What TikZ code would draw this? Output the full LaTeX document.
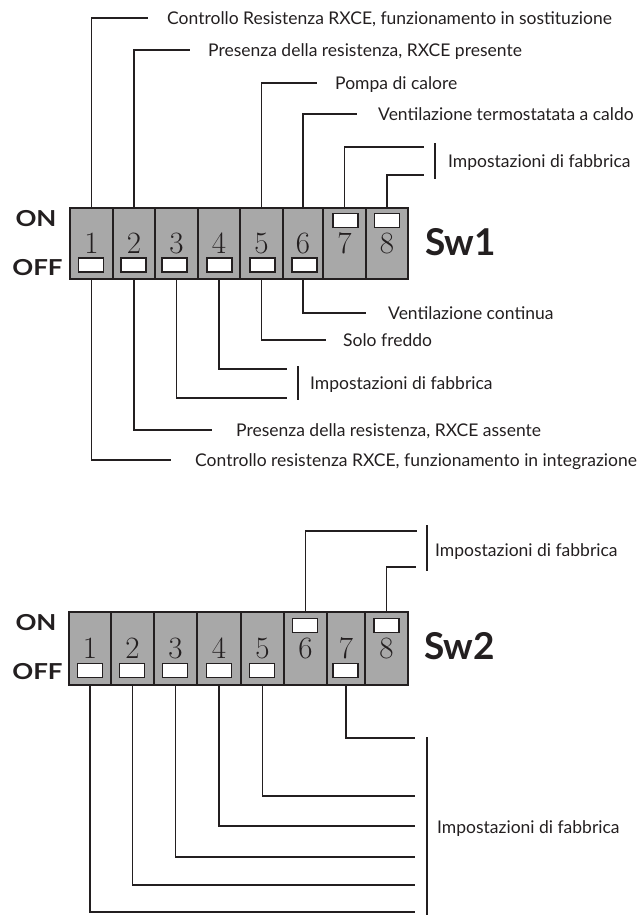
\documentclass[tikz,border=0pt]{standalone}
\usepackage{fontspec}
\newfontfamily\labelfont{Lato}
\definecolor{swgray}{HTML}{A8A8A8}
\definecolor{ink}{HTML}{231F20}
\tikzset{
  cellbox/.style={draw=ink, line width=1.6, fill=swgray, inner sep=0, text=ink,
    font=\fontsize{31}{31}\selectfont},
  tabbox/.style={draw=ink, line width=1.3, fill=white, minimum width=25, minimum height=14, inner sep=0},
  lbl/.style={anchor=west, inner sep=0, text height=13.5, text depth=0, text=ink,
    font=\labelfont\fontsize{17.5}{17.5}\selectfont},
  wire/.style={draw=ink, line width=1.1},
  bar/.style={draw=ink, line width=2},
  onoff/.style={inner sep=0, text=ink, font=\labelfont\bfseries\fontsize{22}{22}\selectfont},
  swname/.style={anchor=west, inner sep=0, text=ink, font=\labelfont\bfseries\fontsize{37}{37}\selectfont}
}
\newcommand{\wideword}[1]{\scalebox{1.18}[1]{#1}}
\begin{document}
\begin{tikzpicture}[x=1pt,y=-1pt]
\useasboundingbox (0,0) rectangle (642,915);

% ---------------- Sw1 ----------------
\node[cellbox, minimum width=43, minimum height=71] (a1) at (91.5,243.5) {1};
\node[cellbox, minimum width=42, minimum height=71] (a2) at (134,243.5) {2};
\node[cellbox, minimum width=43, minimum height=71] (a3) at (176.5,243.5) {3};
\node[cellbox, minimum width=42, minimum height=71] (a4) at (219,243.5) {4};
\node[cellbox, minimum width=43, minimum height=71] (a5) at (261.5,243.5) {5};
\node[cellbox, minimum width=40, minimum height=71] (a6) at (303,243.5) {6};
\node[cellbox, minimum width=43, minimum height=71] (a7) at (344.5,243.5) {7};
\node[cellbox, minimum width=42, minimum height=71] (a8) at (387,243.5) {8};
\node[tabbox] (a1t) at (91,265) {};
\node[tabbox] (a2t) at (133.5,265) {};
\node[tabbox] (a3t) at (174.5,265) {};
\node[tabbox] (a4t) at (219.5,265) {};
\node[tabbox] (a5t) at (262.5,265) {};
\node[tabbox] (a6t) at (304.5,265) {};
\node[tabbox] (a7t) at (345.5,220.5) {};
\node[tabbox] (a8t) at (387,220.5) {};
\node[onoff] (on1) at (36,219) {\wideword{ON}};
\node[onoff] (off1) at (37.5,268) {\wideword{OFF}};
\node[swname] (sw1) at (425,242) {Sw1};

% Sw1 top connectors
\coordinate (e1) at (148,18);
\coordinate (e2) at (190,50);
\coordinate (e5) at (317,83);
\coordinate (e6) at (357,114);
\coordinate (e7) at (424,147);
\coordinate (e8) at (424,175);
\node[lbl] (t1) at (167,18) {Controllo Resistenza RXCE, funzionamento in sostituzione};
\node[lbl] (t2) at (208,50) {Presenza della resistenza, RXCE presente};
\node[lbl] (t5) at (335,83) {Pompa di calore};
\node[lbl] (t6) at (378,114) {Ventilazione termostatata a caldo};
\node[lbl] (t78) at (448,161) {Impostazioni di fabbrica};
\draw[wire] (a1.north) |- (e1);
\draw[wire] (a2.north) |- (e2);
\draw[wire] (a5.north) |- (e5);
\draw[wire] (a6.north) |- (e6);
\draw[wire] (a7.north) |- (e7);
\draw[wire] (a8.north) |- (e8);
\coordinate (b1s) at (435,143);
\coordinate (b1e) at (435,179);
\draw[bar] (b1s) -- (b1e);

% Sw1 bottom connectors
\coordinate (f6) at (366,313);
\coordinate (f5) at (326,340);
\coordinate (f4) at (287,369);
\coordinate (f3) at (287,398);
\coordinate (f2) at (212,430);
\coordinate (f1) at (171,460);
\node[lbl] (u6) at (388,313) {Ventilazione continua};
\node[lbl] (u5) at (343,340) {Solo freddo};
\node[lbl] (u34) at (310,383) {Impostazioni di fabbrica};
\node[lbl] (u2) at (236,430) {Presenza della resistenza, RXCE assente};
\node[lbl] (u1) at (195,460) {Controllo resistenza RXCE, funzionamento in integrazione};
\draw[wire] (a6.south) |- (f6);
\draw[wire] (a5.south) |- (f5);
\draw[wire] (a4.south) |- (f4);
\draw[wire] (a3.south) |- (f3);
\draw[wire] (a2.south) |- (f2);
\draw[wire] (a1.south) |- (f1);
\coordinate (b2s) at (298,366);
\coordinate (b2e) at (298,400);
\draw[bar] (b2s) -- (b2e);

% ---------------- Sw2 ----------------
\node[cellbox, minimum width=42, minimum height=73] (c1) at (90,648.5) {1};
\node[cellbox, minimum width=43, minimum height=73] (c2) at (132.5,648.5) {2};
\node[cellbox, minimum width=43, minimum height=73] (c3) at (175.5,648.5) {3};
\node[cellbox, minimum width=44, minimum height=73] (c4) at (219,648.5) {4};
\node[cellbox, minimum width=43, minimum height=73] (c5) at (262.5,648.5) {5};
\node[cellbox, minimum width=43, minimum height=73] (c6) at (305.5,648.5) {6};
\node[cellbox, minimum width=38, minimum height=73] (c7) at (346,648.5) {7};
\node[cellbox, minimum width=43, minimum height=73] (c8) at (386.5,648.5) {8};
\node[tabbox] (c1t) at (90,670.5) {};
\node[tabbox] (c2t) at (132,670.5) {};
\node[tabbox] (c3t) at (175,670.5) {};
\node[tabbox] (c4t) at (219,670.5) {};
\node[tabbox] (c5t) at (262,670.5) {};
\node[tabbox] (c7t) at (345.5,670.5) {};
\node[tabbox] (c6t) at (305,625.5) {};
\node[tabbox] (c8t) at (386.5,625.5) {};
\node[onoff] (on2) at (36,623) {\wideword{ON}};
\node[onoff] (off2) at (37.5,672) {\wideword{OFF}};
\node[swname] (sw2) at (424,646) {Sw2};

\coordinate (g6) at (417,531);
\coordinate (g8) at (416,567);
\node[lbl] (v68) at (435,550) {Impostazioni di fabbrica};
\draw[wire] (c6.north) |- (g6);
\draw[wire] (c8.north) |- (g8);
\coordinate (b3s) at (427,525);
\coordinate (b3e) at (427,571);
\draw[bar] (b3s) -- (b3e);

\coordinate (h7) at (415,738);
\coordinate (h5) at (415,796);
\coordinate (h4) at (415,826);
\coordinate (h3) at (415,857);
\coordinate (h2) at (415,885);
\coordinate (h1) at (415,912);
\node[lbl] (w) at (437,827) {Impostazioni di fabbrica};
\draw[wire] (c7.south) |- (h7);
\draw[wire] (c5.south) |- (h5);
\draw[wire] (c4.south) |- (h4);
\draw[wire] (c3.south) |- (h3);
\draw[wire] (c2.south) |- (h2);
\draw[wire] (c1.south) |- (h1);
\coordinate (b4s) at (427,737);
\coordinate (b4e) at (427,915);
\draw[bar] (b4s) -- (b4e);
\end{tikzpicture}
\end{document}
